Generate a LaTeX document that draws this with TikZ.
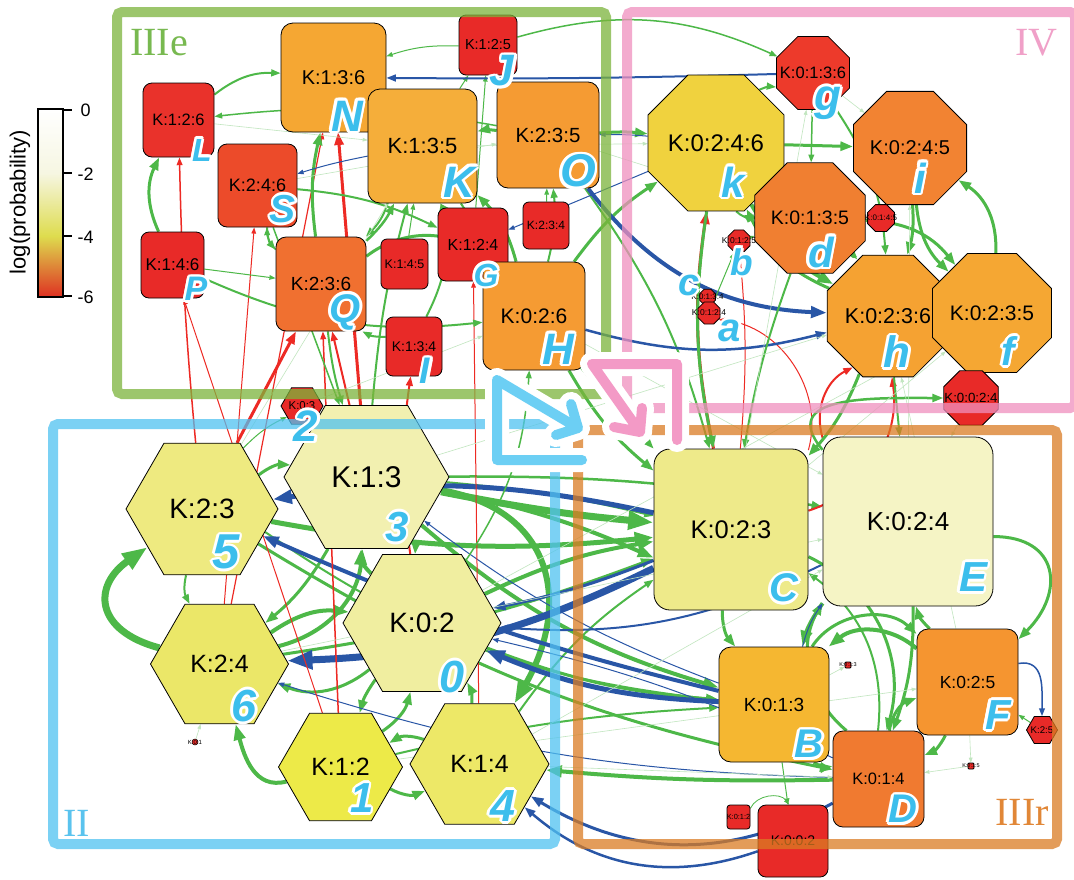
\documentclass[tikz,border=0pt]{standalone}
\usepackage{fontspec}
\setmainfont{Liberation Sans}
\newfontfamily\serifrm{Liberation Serif}
\usetikzlibrary{shapes.geometric,arrows.meta,calc}

\newcommand\fsz[1]{\fontsize{#1}{#1}\selectfont}
\newcommand\lfont[1]{\fontsize{#1}{#1}\selectfont\bfseries\itshape}

% edge colours
\definecolor{grn}{RGB}{77,184,72}
\definecolor{blu}{RGB}{41,86,166}
\definecolor{rd}{RGB}{237,42,36}
\definecolor{lbl}{RGB}{60,190,236}
% region frames
\definecolor{frG}{RGB}{124,180,60}
\definecolor{frP}{RGB}{239,144,190}
\definecolor{frB}{RGB}{80,194,241}
\definecolor{frO}{RGB}{218,124,35}
\definecolor{txG}{RGB}{120,185,80}
\definecolor{txP}{RGB}{240,160,200}
\definecolor{txB}{RGB}{90,195,238}
\definecolor{txO}{RGB}{225,135,55}
\definecolor{arB}{RGB}{108,207,244}
\definecolor{arP}{RGB}{243,154,198}
% state colours
\definecolor{cN}{RGB}{245,167,51}
\definecolor{cL}{RGB}{233,50,43}
\definecolor{cS}{RGB}{236,75,42}
\definecolor{cR}{RGB}{232,42,40}
\definecolor{cQ}{RGB}{240,112,48}
\definecolor{cK}{RGB}{245,174,58}
\definecolor{cO}{RGB}{245,155,51}
\definecolor{ck}{RGB}{240,210,62}
\definecolor{cg}{RGB}{237,58,43}
\definecolor{ci}{RGB}{242,131,50}
\definecolor{cd}{RGB}{240,127,49}
\definecolor{ch}{RGB}{245,162,50}
\definecolor{cf}{RGB}{245,167,51}
\definecolor{cC}{RGB}{238,234,138}
\definecolor{cE}{RGB}{245,244,197}
\definecolor{cB}{RGB}{245,183,49}
\definecolor{cF}{RGB}{245,149,48}
\definecolor{cD}{RGB}{240,122,48}
\definecolor{c5}{RGB}{238,234,128}
\definecolor{c3}{RGB}{242,240,176}
\definecolor{c0}{RGB}{240,238,160}
\definecolor{c6}{RGB}{235,231,104}
\definecolor{c1}{RGB}{237,234,72}
\definecolor{c4}{RGB}{237,232,103}
\definecolor{cbA}{RGB}{246,246,226}
\definecolor{cbB}{RGB}{222,220,78}
\definecolor{cbC}{RGB}{228,140,60}
\definecolor{cbD}{RGB}{222,48,34}

% state letter with a white outline
\newcommand\lett[5]{%
  \foreach \ang in {0,30,...,330}{%
    \node[font=\lfont{#4}, text=white, inner sep=0pt] at ($(#2,#3)+(\ang:2.6)$) {#5};}%
  \node[font=\lfont{#4}, text=lbl, inner sep=0pt] (#1) at (#2,#3) {#5};}

\pgfdeclarelayer{bg}
\pgfdeclarelayer{edges}
\pgfdeclarelayer{frames}
\pgfdeclarelayer{top}
\pgfsetlayers{bg,edges,main,frames,top}

\begin{document}
\begin{tikzpicture}[x=1pt,y=-1pt,
  >={Triangle[length=3pt 3.2, width=2.4pt 2.2]},
  box/.style={draw=black, line width=0.8pt, inner sep=0pt},
  hexa/.style={regular polygon, regular polygon sides=6, draw=black, line width=0.8pt, inner sep=0pt},
  octa/.style={regular polygon, regular polygon sides=8, draw=black, line width=0.8pt, inner sep=0pt},
  ge/.style={draw=grn, ->, line width=#1}, ge/.default=2pt,
  be/.style={draw=blu, ->, line width=#1}, be/.default=2pt,
  re/.style={draw=rd, ->, line width=#1}, re/.default=1pt,
  fe/.style={draw=grn!35, ->, line width=0.6pt},
  regframe/.style={line width=10pt, rounded corners=5pt, opacity=0.75},
  halo/.style={white, line width=24pt, line cap=round, line join=round},
  arr/.style={line width=10pt, line cap=round, line join=round}]

\useasboundingbox (0,0) rectangle (1074,879);
\begin{pgfonlayer}{bg}
  \fill[white] (0,0) rectangle (1074,879);
\end{pgfonlayer}

% ---------- colour bar ----------
\shade[top color=white, bottom color=cbA] (38,109) rectangle (63,173);
\shade[top color=cbA, bottom color=cbB] (38,173) rectangle (63,236);
\shade[top color=cbB, middle color=cbC, bottom color=cbD] (38,236) rectangle (63,297);
\draw[line width=1.6pt] (38,109) rectangle (63,297);
\draw[line width=1.6pt] (63,110) -- (72,110) (63,173) -- (72,173) (63,236) -- (72,236) (63,296) -- (72,296);
\node[anchor=west, font=\fsz{18}] (cb0) at (77,110) {0};
\node[anchor=west, font=\fsz{18}] (cb2) at (74,174) {-2};
\node[anchor=west, font=\fsz{18}] (cb4) at (74,237) {-4};
\node[anchor=west, font=\fsz{18}] (cb6) at (74,297) {-6};
\node[rotate=90, font=\fsz{22}] (cbl) at (20,202) {log(probability)};

% ---------- region IIIe ----------
\node[box, fill=cN, minimum width=105pt, minimum height=109pt, rounded corners=12pt, font=\fsz{20}] (nN) at (333.5,77.5) {K:1:3:6};
\node[box, fill=cL, minimum width=71pt, minimum height=74pt, rounded corners=9pt, font=\fsz{16.5}] (nL) at (178.5,120) {K:1:2:6};
\node[box, fill=cS, minimum width=79pt, minimum height=83pt, rounded corners=9pt, font=\fsz{18}] (nS) at (257.5,185.5) {K:2:4:6};
\node[box, fill=cR, minimum width=63pt, minimum height=66pt, rounded corners=8pt, font=\fsz{17}] (nP) at (172.5,265) {K:1:4:6};
\node[box, fill=cQ, minimum width=90pt, minimum height=94pt, rounded corners=10pt, font=\fsz{19}] (nQ) at (321,284) {K:2:3:6};
\node[box, fill=cK, minimum width=109pt, minimum height=114pt, rounded corners=12pt, font=\fsz{22}] (nK) at (422.5,146) {K:1:3:5};
\node[box, fill=cO, minimum width=102pt, minimum height=106pt, rounded corners=11pt, font=\fsz{20.5}] (nO) at (548,135) {K:2:3:5};
\node[box, fill=cR, minimum width=58pt, minimum height=60pt, rounded corners=7pt, font=\fsz{14.5}] (nJ) at (488,45) {K:1:2:5};
\node[box, fill=cR, minimum width=70pt, minimum height=73pt, rounded corners=8pt, font=\fsz{16}] (nG) at (473,244.5) {K:1:2:4};
\node[box, fill=cR, minimum width=46pt, minimum height=47pt, rounded corners=6pt, font=\fsz{12}] (nB234) at (546,225.5) {K:2:3:4};
\node[box, fill=cR, minimum width=47pt, minimum height=50pt, rounded corners=6pt, font=\fsz{12.5}] (nB145) at (404.5,264) {K:1:4:5};
\node[box, fill=cO, minimum width=102pt, minimum height=108pt, rounded corners=11pt, font=\fsz{21}] (nH) at (534,316) {K:0:2:6};
\node[box, fill=cR, minimum width=56pt, minimum height=59pt, rounded corners=7pt, font=\fsz{14}] (nI) at (414,346.5) {K:1:3:4};

% ---------- region IV ----------
\node[octa, fill=ck, minimum size=128pt, font=\fsz{24}] (ok) at (716,143) {K:0:2:4:6};
\node[octa, fill=cg, minimum size=79pt, font=\fsz{16.5}] (og) at (813,73) {\makebox[0pt]{K:0:1:3:6}};
\node[octa, fill=ci, minimum size=103pt, font=\fsz{20}] (oi) at (910,148) {K:0:2:4:5};
\node[octa, fill=cd, minimum size=102pt, font=\fsz{19.5}] (od) at (810,218) {K:0:1:3:5};
\node[octa, fill=cR, minimum size=29pt, font=\fsz{8}] (o145) at (881,218) {\makebox[0pt]{K:0:1:4:5}};
\node[octa, fill=ch, minimum size=118pt, font=\fsz{21.5}] (oh) at (888,316) {K:0:2:3:6};
\node[octa, fill=cf, minimum size=112pt, font=\fsz{21}] (of) at (992,313) {K:0:2:3:5};
\node[octa, fill=cR, minimum size=59pt, font=\fsz{13.3}] (o0024) at (971,398) {\makebox[0pt]{K:0:0:2:4}};
\node[octa, fill=cR, minimum size=24pt, font=\fsz{8.5}] (ob) at (739,241) {\makebox[0pt]{K:0:1:2:5}};
\node[octa, fill=cR, minimum size=17pt, font=\fsz{8}] (oc) at (707.5,297) {\makebox[0pt]{K:0:1:3:4}};
\node[octa, fill=cR, minimum size=24pt, font=\fsz{8.5}] (oa) at (709,313) {\makebox[0pt]{K:0:1:2:4}};

% ---------- region IIIr ----------
\node[box, fill=cC, minimum width=154pt, minimum height=161pt, rounded corners=16pt, font=\fsz{25.5}] (rC) at (731,529.5) {K:0:2:3};
\node[box, fill=cE, minimum width=170pt, minimum height=169pt, rounded corners=18pt, font=\fsz{26}] (rE) at (908,521.5) {K:0:2:4};
\node[box, fill=cB, minimum width=110pt, minimum height=115pt, rounded corners=12pt, font=\fsz{19}] (rB) at (774,704.5) {K:0:1:3};
\node[box, fill=cF, minimum width=101pt, minimum height=106pt, rounded corners=11pt, font=\fsz{17.5}] (rF) at (967.5,682) {K:0:2:5};
\node[box, fill=cD, minimum width=91pt, minimum height=96pt, rounded corners=10pt, font=\fsz{16.5}] (rD) at (878.5,779) {K:0:1:4};
\node[box, fill=cR, minimum width=70pt, minimum height=72pt, rounded corners=8pt, font=\fsz{14}] (r002) at (793,841) {K:0:0:2};
\node[box, fill=cR, minimum width=23pt, minimum height=24pt, rounded corners=3pt, font=\fsz{7.4}] (r012) at (738.5,817) {\makebox[0pt]{K:0:1:2}};
\node[box, fill=cR, minimum size=6pt, rounded corners=1pt, font=\fsz{5.5}] (r013) at (848,665) {\makebox[0pt]{K:0:1:3}};
\node[box, fill=cR, minimum size=6pt, rounded corners=1pt, font=\fsz{5.5}] (r015) at (971,766) {\makebox[0pt]{K:0:1:5}};
\node[hexa, fill=cR, minimum size=31pt, font=\fsz{9.7}] (r25) at (1042,730) {\makebox[0pt]{K:2:5}};

% ---------- region II ----------
\node[hexa, fill=c5, minimum size=152pt, font=\fsz{28}] (h5) at (202,509) {K:2:3};
\node[hexa, fill=c3, minimum size=165pt, font=\fsz{30}] (h3) at (366.5,477) {K:1:3};
\node[hexa, fill=c0, minimum size=158pt, font=\fsz{28}] (h0) at (422,623) {K:0:2};
\node[hexa, fill=c6, minimum size=138pt, font=\fsz{25}] (h6) at (219.5,664) {K:2:4};
\node[hexa, fill=c1, minimum size=124pt, font=\fsz{25}] (h1) at (340.5,767) {K:1:2};
\node[hexa, fill=c4, minimum size=139pt, font=\fsz{25}] (h4) at (479.5,764) {K:1:4};
\node[hexa, fill=cR, minimum size=42pt, font=\fsz{11.4}] (h2) at (302,406) {\makebox[0pt]{K:0:3}};
\node[circle, draw=black, line width=0.5pt, fill=cR, minimum size=6pt, inner sep=0pt, font=\fsz{6}] (h01) at (195,742) {\makebox[0pt]{K:0:1}};

% ---------- transitions ----------
\begin{pgfonlayer}{edges}
% within II
\draw[ge=7pt] (h6) to[out=165,in=215,looseness=1.7] (h5);
\draw[ge=4pt] (h1) to[out=195,in=-75,looseness=1.1] (h6);
\draw[ge=6pt] (h3) to[out=-10,in=60,looseness=1.3] (h4);
\draw[ge=4pt] (h0) to[bend left=25] (h3);
\draw[ge=3pt] (h3) to[bend left=15] (h0);
\draw[ge=3pt] (h1) to[bend right=20] (h0);
\draw[ge=3pt] (h4) to[bend right=15] (h0);
\draw[ge=3pt] (h0) to[bend right=10] (h1);
\draw[ge=3pt] (h5) to[bend left=20] (h3);
\draw[ge=4pt] (h6) to[bend left=20] (h0);
\draw[ge=3pt] (h0) to[bend left=30] (h6);
\draw[ge=3pt] (h1) to[bend right=25] (h4);
\draw[ge=3pt] (h4) to[bend right=25] (h1);
\draw[ge=2pt] (h5) to[bend right=20] (h6);
\draw[ge=3pt] (h3) to[bend left=10] (h6);
\draw[ge=4pt] (h6) to[bend right=35] (h3);
\draw[fe] (h01) -- (h6);
\draw[ge=1pt] (h2) to (h3);
\draw[ge=1pt] (h5) to[bend left=10] (h2);
% II to IIIr
\draw[ge=7pt] (h3) to[bend right=3] (rC);
\draw[ge=5pt] (h5) to[bend right=8] (rC);
\draw[ge=4pt] (h3.-10) to[bend left=6] (rC.200);
\draw[ge=4pt] (h0) to[bend left=8] (rC);
\draw[ge=3pt] (h6) to[bend right=6] (rC);
\draw[ge=4pt] (h3) to[bend right=12] (rB);
\draw[ge=3pt] (h5) to[bend right=10] (rD);
\draw[ge=3pt] (h0) to[bend right=8] (rB);
\draw[ge=4pt] (rD) to[bend left=3] (h4);
\draw[ge=2pt] (h4) to[bend left=10] (rC);
\draw[ge=2.5pt] (h3) to[bend left=5] (rE);
\draw[ge=2pt] (h1) to[bend left=5] (rB);
\draw[ge=2pt] (h3) to[bend left=4] (rC.170);
\draw[ge=2pt] (h5.-20) to[bend right=14] (rB);
% IIIr to II
\draw[be=7pt] (rC) to[bend left=12] (h6);
\draw[be=5pt] (rB) to[bend left=10] (h0);
\draw[be=5pt] (rC) to[bend right=10] (h5);
\draw[be=4pt] (rB) to[bend left=5] (h5);
\draw[be=3pt] (rD) to[bend left=30] (h4);
\draw[be=2.5pt] (r002) to[bend left=30] (h4);
\draw[be=2pt] (rE) to[bend left=15] (h0);
\draw[be=1pt] (rB) to[bend left=8] (h3);
\draw[be=1pt] (rD) to[bend left=8] (h6);
\draw[be=3pt] (rC) to[bend left=5] (h0);
\draw[be=1pt] (rD) to[bend right=6] (h0);
% II to IIIe
\draw[re=1.5pt] (h5) to[bend left=2] (nL);
\draw[re=3pt] (h5) -- (nQ);
\draw[re=1.2pt] (h6) -- (nN);
\draw[re=3pt] (h3) -- (nN);
\draw[re=2pt] (h3) -- (nQ);
\draw[re=1pt] (h1) -- (nP);
\draw[re=1pt] (h6) -- (nS);
\draw[re=2pt] (h0) to[bend left=8] (nI);
\draw[re=1pt] (h4) -- (nG);
\draw[re=1.5pt] (h1) -- (nQ);
\draw[ge=2pt] (h3) to[bend left=5] (nK);
\draw[ge=2pt] (nQ) to[bend right=5] (h3);
\draw[ge=1.5pt] (h0) to[bend right=15] (nH);
\draw[ge=1.5pt] (nS) to (h3);
% IIIe to IIIr
\draw[ge=3pt] (nH) to[bend right=10] (rC);
\draw[ge=2pt] (nO) to[bend left=10] (rC);
\draw[ge=2pt] (nK) to[bend right=5] (rC);
% IIIr to IV
\draw[re=3pt] (rC) to[bend left=10] (ok);
\draw[re=2pt] (rE) to[bend left=40] (oh);
\draw[re=2pt] (rC) to[bend right=40] (oh);
\draw[re=1pt] (rC) to[bend right=5] (ob);
\draw[re=1pt] (rC) to[bend right=50] (oa);
% within IIIe
\draw[ge=2pt] (nL) to[bend left=20] (nN);
\draw[ge=3pt] (nQ) to[bend left=10] (nN);
\draw[ge=1.5pt] (nO) to[bend right=8] (nL);
\draw[ge=3pt] (nK) to[bend left=15] (nN);
\draw[ge=3pt] (nO) to[bend right=10] (nK);
\draw[ge=3pt] (nH) to[bend right=15] (nK);
\draw[ge=2pt] (nG) to[bend left=10] (nK);
\draw[ge=2.5pt] (nQ) to[bend right=10] (nK);
\draw[ge=3pt] (nP) to[bend left=25] (nL);
\draw[ge=2pt] (nI) to[bend left=15] (nQ);
\draw[ge=2pt] (nH) to[bend right=10] (nO);
\draw[ge=1pt] (nJ) to[bend right=10] (nN);
\draw[ge=1pt] (nK) to (nJ);
\draw[ge=1.5pt] (nQ) to[bend left=20] (nS);
\draw[ge=1pt] (nP) to (nQ);
\draw[ge=1pt] (nB234) to (nO);
\draw[ge=1pt] (nB145) to (nK);
\draw[ge=2pt] (nN) to[bend left=40] (nQ);
\draw[ge=2pt] (nS) to[bend right=20] (nQ);
\draw[ge=3pt] (nQ) to[bend left=40] (nH);
\draw[ge=2pt] (nI) to[bend right=20] (nK);
\draw[ge=1pt] (nG) to (nJ);
\draw[ge=2pt] (nP) to[bend right=15] (nH);
\draw[ge=2pt] (nS) to[bend left=10] (nG);
% IIIe to IV
\draw[ge=3pt] (nH) to[bend left=10] (ok);
\draw[ge=3pt] (nO) to[bend left=5] (ok);
\draw[ge=1.5pt] (nJ) to[bend left=20] (og);
\draw[be=2pt] (og) to[bend left=1] (nN);
\draw[be=4pt] (nO) to[bend right=25] (oh);
\draw[be=2.5pt] (nH) to[bend right=15] (oh);
\draw[be=1pt] (ok) to[bend right=3] (nO);
\draw[be=1pt] (nK) to[bend right=3] (nS);
\draw[be=1pt] (ok) to (nG);
% within IV
\draw[ge=3pt] (ok) to (oi);
\draw[ge=2pt] (ok) to[bend left=15] (og);
\draw[ge=1.5pt] (og) to (od);
\draw[ge=4pt] (od) to[bend left=10] (oh);
\draw[ge=3pt] (oi) to[bend left=10] (oh);
\draw[ge=3pt] (oh) to[bend left=20] (ok);
\draw[ge=3pt] (of) to[bend right=30] (oi);
\draw[ge=2pt] (og) to[bend left=15] (oh);
\draw[ge=3pt] (od) to[bend left=25] (of);
\draw[ge=4pt] (ok) to[bend right=15] (oh);
\draw[ge=2pt] (ok) to[bend right=35] (od);
\draw[ge=5pt] (ok) to[bend left=10] (od);
\draw[ge=3pt] (oi) to[bend right=20] (of);
\draw[ge=3pt] (oh) to[bend right=30] (of);
\draw[ge=1pt] (o145) to (od);
\draw[ge=1pt] (ob) to (od);
\draw[ge=1pt] (oa) to (ob);
% IV to IIIr
\draw[ge=2pt] (oh) -- (rE);
\draw[ge=3pt] (oh) to[bend left=10] (rC);
\draw[ge=3pt] (ok) to[bend right=10] (rC);
\draw[ge=2pt] (od) to[bend right=5] (rC);
\draw[ge=2.5pt] (rE.140) to[out=130,in=180,looseness=1.4] (o0024);
\draw[fe] (o0024) to (rE);
% within IIIr
\draw[ge=3pt] (rE.-10) to[out=0,in=45,looseness=1.6] (rF.40);
\draw[ge=3pt] (rC) to[bend right=20] (rB);
\draw[ge=3pt] (rB) to[bend right=20] (rD);
\draw[ge=3pt] (rF) to[bend left=20] (rD);
\draw[ge=4pt] (rE) to[bend right=10] (rB);
\draw[ge=3pt] (rD) to[bend left=30] (rF);
\draw[ge=3pt] (rC) to[bend left=40] (rD);
\draw[ge=3pt] (rE) to[bend left=10] (rD);
\draw[ge=3pt] (rF) to[bend left=15] (rE);
\draw[ge=3pt] (rB) to[bend left=50] (rF);
\draw[ge=2pt] (rD) to[bend right=30] (rC);
\draw[ge=4pt] (rF) to[bend right=40] (rB);
\draw[ge=3pt] (rD) to[bend left=40] (rE);
\draw[be=1.5pt] (rF.20) to[out=10,in=90,looseness=1.2] (r25);
\draw[be=1pt] (rB) to[bend left=10] (rE);
\draw[ge=1pt] (r25) -- (rF);
\draw[fe] (rF) -- (r015);
\draw[fe] (r015) -- (rD);
\draw[fe] (rB) -- (r013);
\draw[ge=0.8pt] (r012) to[bend left=60] (r002);
\draw[ge=1pt] (rB) to (r002);
% faint transitions
\draw[fe] (h4) -- (rE);
\draw[fe] (h1) -- (rF);
\draw[fe] (h4) -- (rD);
\draw[fe] (h6) -- (rE);
\draw[fe] (rC) -- (og);
\draw[fe] (rE) -- (oi);
\draw[fe] (nH) -- (rE);
\draw[fe] (nO) -- (od);
\draw[fe] (nK) -- (ok);
\draw[fe] (nS) -- (nO);
\draw[fe] (nL) -- (nK);
\draw[fe] (h5) -- (nK);
\draw[fe] (h2) -- (nH);
\draw[fe] (h0) -- (of);
\draw[fe] (rC) -- (of);
\draw[fe] (h3) -- (oh);
\draw[fe] (og) -- (oi);
\draw[fe] (rF) -- (oh);
\end{pgfonlayer}

% ---------- region frames ----------
\begin{pgfonlayer}{frames}
\draw[regframe, frG] (117,12) rectangle (606,394);
\draw[regframe, frP] (627,12) rectangle (1075,408);
\draw[regframe, frB] (53,424) rectangle (555,844);
\draw[regframe, frO] (578,430) rectangle (1057,844);
\end{pgfonlayer}

\begin{pgfonlayer}{top}
% direction arrows between regions
\draw[halo] (497,380) -- (497,460) -- (582,460) (497,380) -- (578,428) (571,404) -- (578,428) -- (556,435);
\draw[arr, arB] (497,380) -- (497,460) -- (582,460) (497,380) -- (578,428) (571,404) -- (578,428) -- (556,435);
\draw[halo] (592,364) -- (677,364) -- (677,440) (592,364) -- (640,432) (642,408) -- (640,432) -- (614,427);
\draw[arr, arP] (592,364) -- (677,364) -- (677,440) (592,364) -- (640,432) (642,408) -- (640,432) -- (614,427);

% region names
\node[anchor=base west, font=\serifrm\fsz{40}, text=txG, inner sep=0pt] (tIIIe) at (130,55) {IIIe};
\node[anchor=base east, font=\serifrm\fsz{40}, text=txP, inner sep=0pt] (tIV) at (1058,55) {IV};
\node[anchor=base west, font=\serifrm\fsz{40}, text=txB, inner sep=0pt] (tII) at (63,836) {II};
\node[anchor=base east, font=\serifrm\fsz{40}, text=txO, inner sep=0pt] (tIIIr) at (1049,825) {IIIr};

% state letters
\lett{lN}{347}{116}{44}{N}
\lett{lL}{202}{150}{32}{L}
\lett{lS}{283}{209}{39}{S}
\lett{lP}{196}{289}{34}{P}
\lett{lQ}{345}{312}{40}{Q}
\lett{lK}{459}{182}{44}{K}
\lett{lO}{578}{171}{46}{O}
\lett{lJ}{502}{71}{44}{J}
\lett{lG}{486}{275}{32}{G}
\lett{lH}{558}{349}{44}{H}
\lett{lI}{425}{371}{37}{I}
\lett{l2}{306}{426}{44}{2}
\lett{lk}{733}{182}{42}{k}
\lett{lg}{828}{103}{44}{g}
\lett{li}{920}{178}{42}{i}
\lett{ld}{821}{252}{42}{d}
\lett{lb}{742}{262}{37}{b}
\lett{lc}{689}{285}{38}{c}
\lett{la}{730}{331}{40}{a}
\lett{lh}{897}{352}{44}{h}
\lett{lf}{1008}{351}{40}{f}
\lett{lC}{784}{588}{40}{C}
\lett{lE}{973}{577}{42}{E}
\lett{lB}{809}{744}{40}{B}
\lett{lF}{998}{715}{42}{F}
\lett{lD}{903}{809}{40}{D}
\lett{l5}{226}{552}{49}{5}
\lett{l3}{397}{527}{42}{3}
\lett{l0}{452}{677}{45}{0}
\lett{l6}{244}{706}{45}{6}
\lett{l1}{362}{798}{42}{1}
\lett{l4}{503}{806}{45}{4}
\end{pgfonlayer}
\end{tikzpicture}
\end{document}
